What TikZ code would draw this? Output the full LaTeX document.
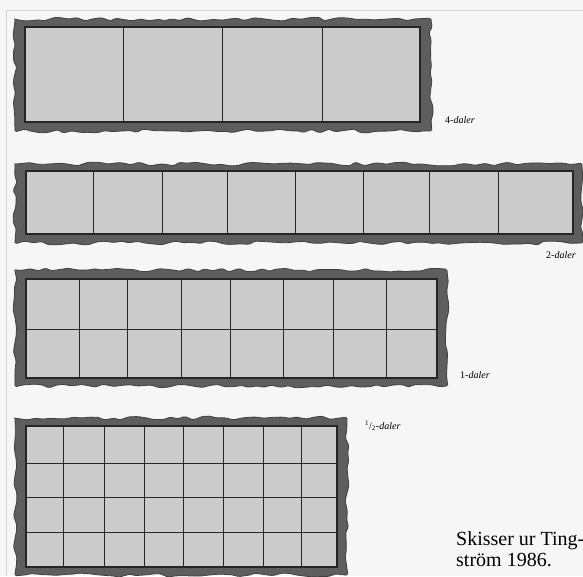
\documentclass[tikz,border=0pt]{standalone}
\usepackage{fontspec}
\setmainfont{Liberation Serif}
\usetikzlibrary{decorations.pathmorphing}
\definecolor{paper}{HTML}{F6F6F6}
\definecolor{frame}{HTML}{D4D4D4}
\definecolor{band}{HTML}{5E5E5E}
\definecolor{coin}{HTML}{CBCBCB}

\begin{document}
\begin{tikzpicture}[x=1pt, y=-1pt,
      torn/.style={fill=band, draw=black!75, line width=0.8pt, decorate,
                   decoration={random steps, segment length=8pt, amplitude=2pt},
                   rounded corners=1.5pt},
      sheet/.style={fill=coin, draw=black!85, line width=1.4pt},
      divider/.style={draw=black!85, line width=0.9pt},
      tag/.style={anchor=base west, inner sep=0pt, font=\fontsize{10}{12}\selectfont},
      source/.style={anchor=base west, inner sep=0pt, font=\fontsize{20}{23}\selectfont}]
    \pgfmathsetseed{17}
    \useasboundingbox (0,0) rectangle (583,576);
    \fill[paper] (0,0) rectangle (583,576);
    \draw[frame] (6,576) -- (6,10) -- (583,10);
    % 4-daler
    \path[torn] (15,19) rectangle (431,131);
    \filldraw[sheet] (25,27) rectangle (420,122);
    \foreach \x in {123,222,322} \draw[divider] (\x,27) -- (\x,122);
    \node[tag] (four) at (445,123) {4-\textit{daler}};
    % 2-daler
    \path[torn] (15,164) rectangle (582,243);
    \filldraw[sheet] (26,171) rectangle (573,234);
    \foreach \x in {93,162,227,295,363,429,498} \draw[divider] (\x,171) -- (\x,234);
    \node[tag] (two) at (546,258) {2-\textit{daler}};
    % 1-daler
    \path[torn] (15,270) rectangle (447,386);
    \filldraw[sheet] (26,279) rectangle (437,378);
    \foreach \x in {79,127,181,230,283,333,386} \draw[divider] (\x,279) -- (\x,378);
    \draw[divider] (26,329) -- (437,329);
    \node[tag] (one) at (460,378) {1-\textit{daler}};
    % 1/2-daler
    \path[torn] (15,418) rectangle (347,575);
    \filldraw[sheet] (26,426) rectangle (337,567);
    \foreach \x in {63,104,144,183,223,263,301} \draw[divider] (\x,426) -- (\x,567);
    \foreach \y in {463,497,532} \draw[divider] (26,\y) -- (337,\y);
    \node[tag] (half) at (365,429) {\textsuperscript{1}/\textsubscript{2}-\textit{daler}};
    % caption
    \node[source] (cap1) at (456,545) {Skisser ur Ting-};
    \node[source] (cap2) at (456,566) {ström 1986.};
  \end{tikzpicture}
\end{document}
